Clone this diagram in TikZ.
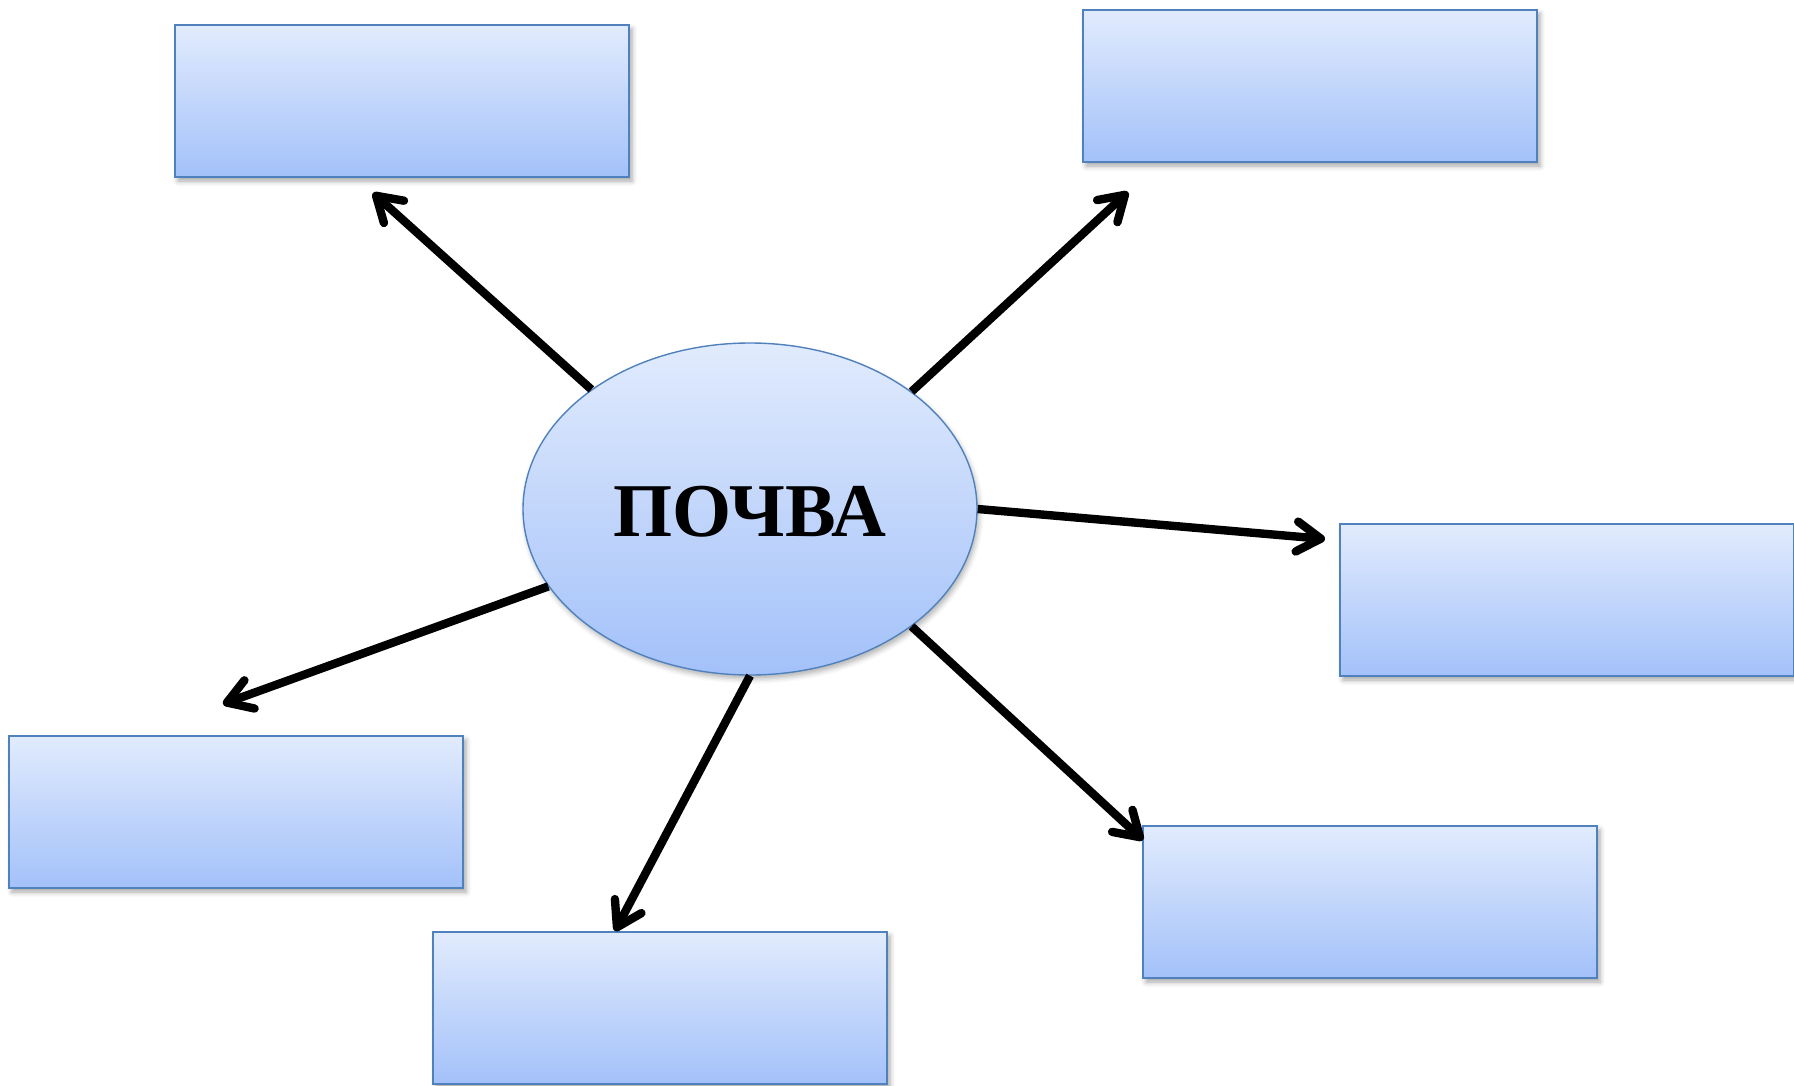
\documentclass[tikz,border=0pt]{standalone}
\usepackage{fontspec}
\setmainfont{Liberation Serif}
\usetikzlibrary{shapes.geometric,arrows.meta,shadows.blur}
\definecolor{topc}{HTML}{E1EBFD}
\definecolor{botc}{HTML}{A3C1F9}
\definecolor{edgec}{HTML}{4F81BD}
\begin{document}
\begin{tikzpicture}[x=0.5pt,y=-0.5pt,
  box/.style={rectangle, draw=edgec, line width=1pt, top color=topc, bottom color=botc,
    minimum width=227pt, minimum height=76pt, inner sep=0pt,
    blur shadow={shadow xshift=1.5pt, shadow yshift=-2pt, shadow blur radius=2.5pt, shadow opacity=35}},
  hub/.style={ellipse, draw=edgec, line width=0.7pt, top color=topc, bottom color=botc,
    minimum width=227pt, minimum height=166pt, inner sep=0pt,
    blur shadow={shadow xshift=1pt, shadow yshift=-2pt, shadow blur radius=2.5pt, shadow opacity=30}},
  conn/.style={line width=4.2pt, -{Straight Barb[length=12pt, width=15pt, round]}}
]
\useasboundingbox (0,0) rectangle (1794,1086);
\node[box] (b1) at (402,101) {};
\node[box] (b2) at (1310,86) {};
\node[box] (b3) at (1567,600) {};
\node[box] (b4) at (236,812) {};
\node[box] (b5) at (660,1008) {};
\node[box] (b6) at (1370,902) {};
\node[hub] (c) at (750,509) {};
\node[font=\fontsize{38pt}{40pt}\selectfont\bfseries] (lbl) at (750,512) {ПОЧВА};
\coordinate (t1) at (373,193);
\coordinate (t2) at (1128,192);
\coordinate (t3) at (1325,539);
\coordinate (t4) at (223,704);
\coordinate (t5) at (615,931);
\coordinate (t6) at (1143,840);
\draw[conn] (c.143.5) -- (t1);
\draw[conn] (c.36.4) -- (t2);
\draw[conn] (c.0) -- (t3);
\draw[conn] (c.201.3) -- (t4);
\draw[conn] (c.270) -- (t5);
\draw[conn] (c.-36.4) -- (t6);
\end{tikzpicture}
\end{document}
